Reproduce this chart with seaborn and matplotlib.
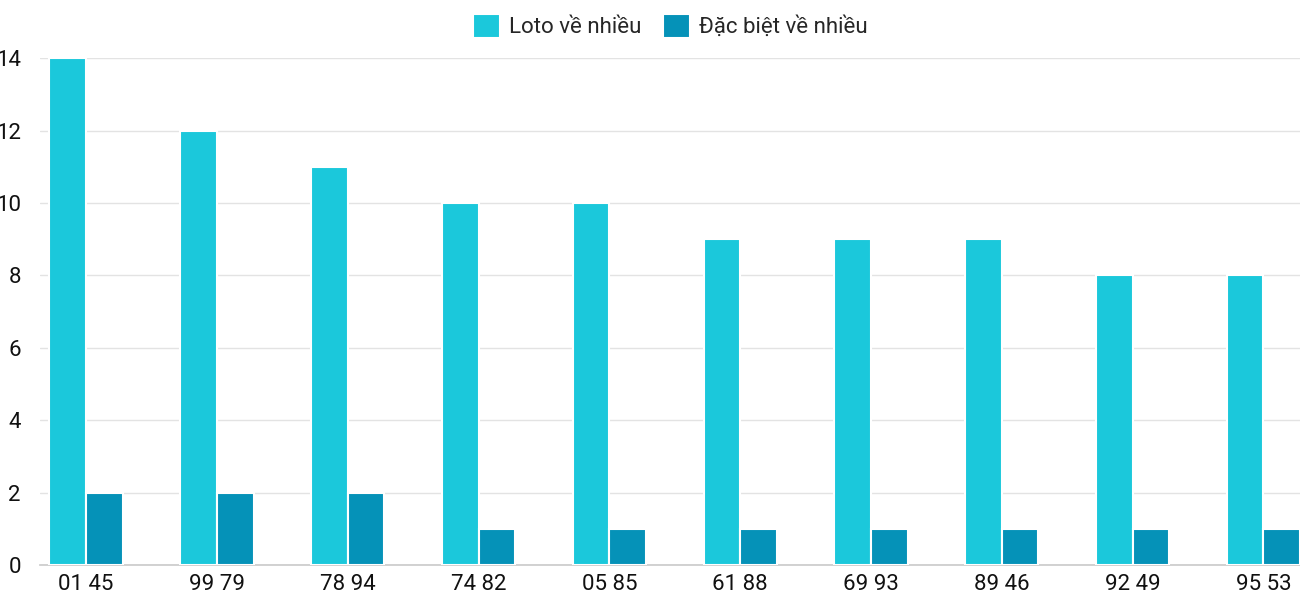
import matplotlib
matplotlib.use("Agg")
import matplotlib.pyplot as plt
import seaborn as sns
import pandas as pd

categories = ["01 45", "99 79", "78 94", "74 82", "05 85", "61 88", "69 93", "89 46", "92 49", "95 53"]
loto = [14, 12, 11, 10, 10, 9, 9, 9, 8, 8]
dacbiet = [2, 2, 2, 1, 1, 1, 1, 1, 1, 1]
series = ["Loto về nhiều", "Đặc biệt về nhiều"]

df = pd.DataFrame({
    "cat": categories * 2,
    "val": loto + dacbiet,
    "series": [series[0]] * len(categories) + [series[1]] * len(categories),
})

sns.set_theme(style="white")
plt.rcParams["font.family"] = ["Roboto", "DejaVu Sans"]

fig = plt.figure(figsize=(13, 6), dpi=100)
ax = fig.add_axes([0.031, 0.058, 0.969, 0.845])
sns.barplot(data=df, x="cat", y="val", hue="series", order=categories, hue_order=series,
            palette=["#1bc8db", "#0592b8"], saturation=1, width=0.56, edgecolor="white", linewidth=1.5,
            ax=ax, zorder=3)
ax.set_xlim(-0.35, 9.28)
ax.set_ylim(0, 14)
ax.set_yticks(range(0, 15, 2))
ax.grid(axis="y", color="#e3e3e3", linewidth=1, zorder=0)
ax.set_xlabel("")
ax.set_ylabel("")
for s in ["top", "right", "left"]:
    ax.spines[s].set_visible(False)
ax.spines["bottom"].set_color("#cccccc")
ax.tick_params(axis="both", labelsize=16, length=0, colors="#111111")
ax.tick_params(axis="y", pad=14)
ax.tick_params(axis="x", pad=6)
ax.legend(loc="lower center", bbox_to_anchor=(0.5, 1.0), ncol=2, frameon=False,
          fontsize=16, handlelength=1.2, handleheight=1.3, columnspacing=1.0, handletextpad=0.4)
fig.savefig("out.png", dpi=100)
